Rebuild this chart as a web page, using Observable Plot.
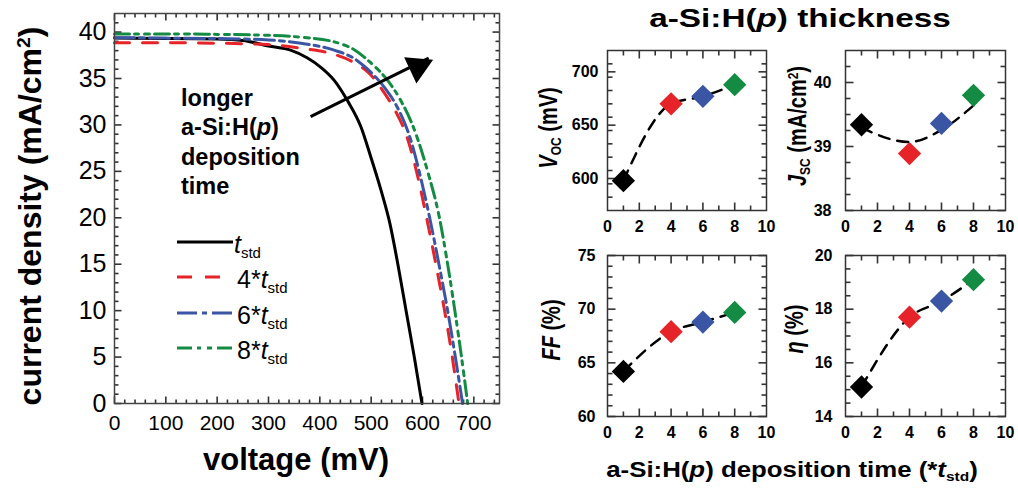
<!DOCTYPE html>
<html><head><meta charset="utf-8">
<script src="https://cdn.jsdelivr.net/npm/d3@7"></script>
<script src="https://cdn.jsdelivr.net/npm/@observablehq/plot@0.6"></script>
<style>
body{margin:0;background:#fff;}
#wrap{position:relative;width:1018px;height:491px;overflow:hidden;background:#fff;font-family:"Liberation Sans",Arial,Helvetica,sans-serif;color:#000;}
.abs{position:absolute;white-space:nowrap;line-height:1;}
.sub{font-size:0.6em;vertical-align:-0.3em;line-height:0;}
.sup{font-size:0.6em;vertical-align:0.55em;line-height:0;}
</style></head><body><div id="wrap"></div>
<script>
// ---------------- data ----------------
const seriesNames = ["t_std", "4*t_std", "6*t_std", "8*t_std"];
const seriesColors = ["#000000", "#e52329", "#3a55a4", "#138b43"];
const seriesDash = [null, "15 13", "20 5 5 5", "15 5 4 6 5 5"];

// J-V curves (voltage in mV, current density in mA/cm2)
const vStd = [0, 100, 200, 250, 300, 343, 376, 402, 428, 454, 480, 499, 519, 536, 552, 568, 584, 599];
const jStd = [39.35, 39.3, 39.25, 39.1, 38.5, 38.05, 37.2, 36.2, 34.8, 32.6, 29.8, 26.6, 23.0, 19.5, 15.0, 10.0, 5.0, 0];
const v4 = [0, 100, 200, 300, 363, 428, 467, 499, 525, 551, 568, 587, 608, 626, 643, 658, 671];
const j4 = [38.85, 38.85, 38.8, 38.65, 38.25, 37.6, 36.7, 35.4, 33.5, 31.1, 29.0, 25.3, 20.0, 15.0, 10.0, 5.0, 0];
const v6 = [0, 100, 200, 300, 363, 428, 467, 493, 525, 551, 577, 597, 614, 632, 649, 664, 678];
const j6 = [39.4, 39.35, 39.3, 39.15, 38.8, 38.05, 37.15, 36.0, 34.1, 31.9, 28.4, 24.2, 20.0, 15.0, 10.0, 5.0, 0];
const v8 = [0, 100, 200, 300, 363, 428, 467, 499, 532, 558, 584, 610, 633, 649, 663, 676, 688];
const j8 = [39.8, 39.8, 39.75, 39.65, 39.45, 38.95, 38.1, 36.7, 34.8, 32.6, 29.5, 25.0, 20.0, 15.0, 10.0, 5.0, 0];

const voltageTicks = [0, 100, 200, 300, 400, 500, 600, 700];
const currentTicks = [0, 5, 10, 15, 20, 25, 30, 35, 40];

// annotation arrow (data units)
const arrowLine = [{v1: 382, j1: 30.9, v2: 612, j2: 37.2}];
const arrowHead = [{v: 591, j: 36.25, angle: 65}];

// summary panels
const depTime = [1, 4, 6, 8];
const vocValues = [598, 670, 677, 688];
const jscValues = [39.34, 38.89, 39.36, 39.80];
const jscTrend = [39.29, 39.07, 39.26, 39.64];
const ffValues = [64.2, 67.9, 68.8, 69.7];
const etaValues = [15.1, 17.7, 18.3, 19.1];
const timeTicks = [0, 2, 4, 6, 8, 10];
const vocTicks = [600, 650, 700];
const jscTicks = [38, 39, 40];
const ffTicks = [60, 65, 70, 75];
const etaTicks = [14, 16, 18, 20];

// ---------------- helpers ----------------
const FONT = '"Liberation Sans", Arial, Helvetica, sans-serif';
const wrap = document.getElementById("wrap");
function place(svg, left, top, w) {
  const d = document.createElement("div");
  d.style.cssText = `position:absolute;left:${left}px;top:${top}px;width:${w}px;`;
  d.appendChild(svg); wrap.appendChild(d);
}
function txt(html, x, y, size, {anchor = "middle", sx = 1, weight = "bold"} = {}) {
  const d = document.createElement("div");
  d.className = "abs"; d.innerHTML = html;
  const tr = (anchor === "middle" ? "translateX(-50%) " : "") + `scaleX(${sx})`;
  d.style.cssText += `left:${x}px;top:${y - 0.8465 * size}px;font-size:${size}px;font-weight:${weight};transform:${tr};transform-origin:${anchor === "middle" ? "center" : "left"} center;`;
  wrap.appendChild(d);
}
function rot(html, cx, cy, size, sy = 1) {
  const d = document.createElement("div");
  d.className = "abs"; d.innerHTML = html;
  d.style.cssText += `left:${cx}px;top:${cy}px;font-size:${size}px;font-weight:bold;transform:translate(-50%,-50%) rotate(-90deg) scaleY(${sy});transform-origin:center;`;
  wrap.appendChild(d);
}
// inward ticks on all four sides of the frame (lengths given in pixels, converted to data units)
function edgeTicks(xDom, yDom, fw, fh, xMaj, xMin, yMaj, yMin, lenMaj, lenMin, color) {
  const kx = (xDom[1] - xDom[0]) / fw, ky = (yDom[1] - yDom[0]) / fh;
  const segs = [];
  for (const [arr, len] of [[xMaj, lenMaj], [xMin, lenMin]]) for (const v of arr) {
    segs.push({a: v, b: v, c: yDom[0], d: yDom[0] + len * ky});
    segs.push({a: v, b: v, c: yDom[1], d: yDom[1] - len * ky});
  }
  for (const [arr, len] of [[yMaj, lenMaj], [yMin, lenMin]]) for (const v of arr) {
    segs.push({c: v, d: v, a: xDom[0], b: xDom[0] + len * kx});
    segs.push({c: v, d: v, a: xDom[1], b: xDom[1] - len * kx});
  }
  return Plot.link(segs, {x1: "a", x2: "b", y1: "c", y2: "d", stroke: color, strokeWidth: 1.6, ariaLabel: "edge-ticks"});
}
const minorOf = (lo, hi, step, major) => d3.range(lo, hi + step / 2, step).filter(v => v > lo + 1e-9 && v < hi - 1e-9 && !major.some(M => Math.abs(M - v) < 1e-9));

// ---------------- left J-V plot ----------------
const curves = [[vStd, jStd], [v4, j4], [v6, j6], [v8, j8]];
const jvMarks = curves.map(([V, J], i) => Plot.line(V.map((v, k) => ({v, j: J[k]})), {
  x: "v", y: "j", stroke: seriesColors[i], strokeWidth: 3,
  strokeDasharray: seriesDash[i] || undefined, curve: "monotone-x"
}));
const JV = {w: 510, h: 440, l: 114, r: 11, t: 13, b: 37};
const jvX = [0, 750], jvY = [0, 42];
const jv = Plot.plot({
  width: JV.w, height: JV.h,
  marginLeft: JV.l, marginRight: JV.r, marginTop: JV.t, marginBottom: JV.b,
  x: {domain: jvX}, y: {domain: jvY},
  style: {fontFamily: FONT, background: "transparent", color: "#000", maxWidth: "none", overflow: "visible"},
  marks: [
    Plot.axisX(voltageTicks, {tickSize: 0, tickPadding: 12, fontSize: 21, label: null}),
    Plot.axisY(currentTicks, {tickSize: 0, tickPadding: 8, fontSize: 25, label: null}),
    edgeTicks(jvX, jvY, JV.w - JV.l - JV.r, JV.h - JV.t - JV.b, voltageTicks, minorOf(0, 750, 20, voltageTicks), currentTicks, minorOf(0, 42, 1, currentTicks), 7, 4, "#333"),
    ...jvMarks,
    Plot.frame({stroke: "#444", strokeWidth: 1.5}),
    Plot.link(arrowLine, {x1: "v1", y1: "j1", x2: "v2", y2: "j2", stroke: "#000", strokeWidth: 3}),
    Plot.dot(arrowHead, {x: "v", y: "j", symbol: "triangle", r: 10.8, fill: "#000", rotate: "angle"})
  ]
});
place(jv, 0, 0, JV.w);

// ---------------- small panels ----------------
function panel(values, trend, yDomain, yTicks, yMinorStep, frameLeft, frameTop, frameW, frameH, yPad) {
  const mL = 60, mR = 12, mT = 12, mB = 32;
  const xDomain = [0, 10];
  const pts = depTime.map((t, i) => ({t, v: values[i], c: seriesColors[i]}));
  const tr = depTime.map((t, i) => ({t, v: trend[i]}));
  const p = Plot.plot({
    width: mL + frameW + mR, height: mT + frameH + mB,
    marginLeft: mL, marginRight: mR, marginTop: mT, marginBottom: mB,
    x: {domain: xDomain}, y: {domain: yDomain}, color: {type: "identity"},
    style: {fontFamily: FONT, background: "transparent", color: "#000", maxWidth: "none", overflow: "visible"},
    marks: [
      Plot.axisX(timeTicks, {tickSize: 0, tickPadding: 10, fontSize: 16, fontWeight: "bold", label: null, tickFormat: d3.format("d")}),
      Plot.axisY(yTicks, {tickSize: 0, tickPadding: yPad, fontSize: 16, fontWeight: "bold", label: null, tickFormat: d3.format("d")}),
      edgeTicks(xDomain, yDomain, frameW, frameH, [2, 4, 6, 8], [1, 3, 5, 7, 9], yTicks, minorOf(yDomain[0], yDomain[1], yMinorStep, yTicks), 8, 5, "#333"),
      Plot.frame({stroke: "#333", strokeWidth: 1.5}),
      Plot.line(tr, {x: "t", y: "v", stroke: "#000", strokeWidth: 2.5, strokeDasharray: "11 8", curve: "monotone-x"}),
      Plot.dot(pts, {x: "t", y: "v", symbol: "diamond2", r: 10.5, fill: "c"})
    ]
  });
  place(p, frameLeft - mL, frameTop - mT, mL + frameW + mR);
}
panel(vocValues, vocValues, [570, 720], vocTicks, 12.5, 607, 50, 159, 160, 9);
panel(jscValues, jscTrend, [38, 40.5], jscTicks, 0.25, 845, 50, 160, 160, 14);
panel(ffValues, ffValues, [60, 75], ffTicks, 1, 607, 255, 159, 161, 12);
panel(etaValues, etaValues, [14, 20], etaTicks, 0.5, 844.5, 255, 160, 161, 13);

// ---------------- texts ----------------
rot('current density (mA/cm<span class="sup">2</span>)', 30, 216, 32);
txt('voltage (mV)', 296, 470, 31);
const annoLines = ['longer', 'a-Si:H(<i>p</i>)', 'deposition', 'time'];
annoLines.forEach((s, i) => txt(s, 181, 106.7 + i * 29.4, 23.5, {anchor: "start"}));

// legend
seriesNames.forEach((name, i) => {
  const y = 241.7 + i * 35.5;
  const ns = "http://www.w3.org/2000/svg";
  const s = document.createElementNS(ns, "svg");
  s.setAttribute("width", 56); s.setAttribute("height", 10);
  s.style.cssText = `position:absolute;left:177px;top:${y - 5}px;`;
  const l = document.createElementNS(ns, "line");
  l.setAttribute("x1", 0); l.setAttribute("x2", 56); l.setAttribute("y1", 5); l.setAttribute("y2", 5);
  l.setAttribute("stroke", seriesColors[i]); l.setAttribute("stroke-width", 3);
  if (seriesDash[i]) l.setAttribute("stroke-dasharray", seriesDash[i]);
  s.appendChild(l); wrap.appendChild(s);
  const [pre] = name.split("t_std");
  txt(`${pre}<i>t</i><span class="sub">std</span>`, pre ? 237 : 234, y + 11, 25, {anchor: "start", weight: "normal"});
});

txt('a-Si:H(<i>p</i>) thickness', 800, 27, 26, {sx: 1.28});
txt('a-Si:H(<i>p</i>) deposition time (*<i>t</i><span class="sub">std</span>)', 792, 478, 21.5, {sx: 1.2});
rot('<i>V</i><span class="sub">OC</span> (mV)', 548, 127.5, 20, 1.27);
rot('<i>J</i><span class="sub">SC</span> (mA/cm<span class="sup">2</span>)', 797, 126, 20, 1.27);
rot('<i>FF</i> (%)', 551, 330, 20, 1.27);
rot('<i>η</i> (%)', 794, 329, 20, 1.27);
</script></body></html>
